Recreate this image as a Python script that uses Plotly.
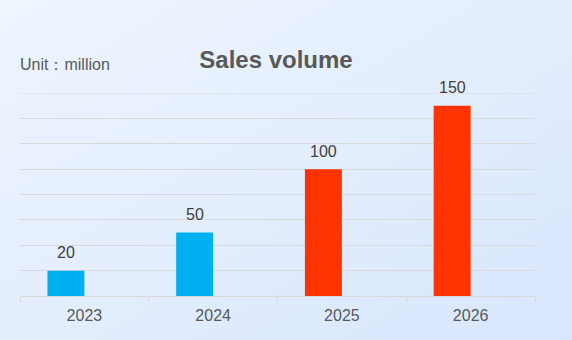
import base64
import plotly.graph_objects as go

years = ["2023", "2024", "2025", "2026"]
sales = [20, 50, 100, 150]
bar_colors = ["#00b0f0", "#00b0f0", "#ff3300", "#ff3300"]
grid_values = [20, 40, 60, 80, 100, 120, 140, 160]

W, H = 572, 340
ml, mr, mt, mb = 20, 37, 93, 44
pw, ph = W - ml - mr, H - mt - mb
grid_color = "#d9d9d9"

svg = f"""<svg xmlns='http://www.w3.org/2000/svg' width='{W}' height='{H}' viewBox='0 0 {W} {H}' preserveAspectRatio='none'>
<defs><linearGradient id='g' x1='0' y1='0' x2='1' y2='1'>
<stop offset='0' stop-color='#eef5fd'/><stop offset='1' stop-color='#d8e6fd'/></linearGradient></defs>
<rect width='{W}' height='{H}' fill='url(#g)'/></svg>"""
src = "data:image/svg+xml;base64," + base64.b64encode(svg.encode()).decode()

fig = go.Figure()
fig.add_trace(go.Bar(
    x=years, y=sales, marker=dict(color=bar_colors, line=dict(width=0)),
    width=0.287, offset=-0.287, hoverinfo="skip",
))

for i, v in enumerate(sales):
    fig.add_annotation(x=i, y=v, xref="x", yref="y", text=str(v), showarrow=False,
                       xshift=-18.5, yshift=18, yanchor="middle",
                       font=dict(family="Liberation Sans, Arial", size=16, color="#404040"))

fig.add_annotation(x=0, y=1 + (mt - 64) / ph, xref="paper", yref="paper", text="Unit：million",
                   showarrow=False, xanchor="left", yanchor="middle", xshift=-2,
                   font=dict(family="Liberation Sans, Arial", size=16, color="#595959"))

# top gridline (plotly clips the gridline at the range end)
fig.add_shape(type="line", xref="paper", yref="y", x0=0, x1=1,
              y0=grid_values[-1], y1=grid_values[-1], layer="below",
              line=dict(color=grid_color, width=1))

fig.update_layout(
    width=W, height=H,
    margin=dict(l=ml, r=mr, t=mt, b=mb, pad=0),
    paper_bgcolor="rgba(0,0,0,0)", plot_bgcolor="rgba(0,0,0,0)",
    showlegend=False,
    title=dict(text="<b>Sales volume</b>", x=276 / W, xanchor="center", y=1 - 60 / H, yanchor="middle",
               font=dict(family="Liberation Sans, Arial", size=24, color="#595959")),
    images=[dict(source=src, xref="paper", yref="paper", x=-ml / pw, y=1 + mt / ph,
                 sizex=W / pw, sizey=H / ph, sizing="stretch", layer="below",
                 xanchor="left", yanchor="top")],
    xaxis=dict(type="category", range=[-0.5, 3.5], autorange=False, showline=True,
               linecolor=grid_color, linewidth=1,
               ticks="outside", tickson="boundaries", ticklen=5, tickcolor=grid_color,
               showgrid=False, zeroline=False, tickangle=0, ticklabelstandoff=5,
               tickfont=dict(family="Liberation Sans, Arial", size=16, color="#595959")),
    yaxis=dict(range=[0, 160], autorange=False, tickvals=grid_values,
               showticklabels=False, showgrid=True,
               gridcolor=grid_color, gridwidth=1, zeroline=False, showline=False),
)

fig.write_html("out.html")
